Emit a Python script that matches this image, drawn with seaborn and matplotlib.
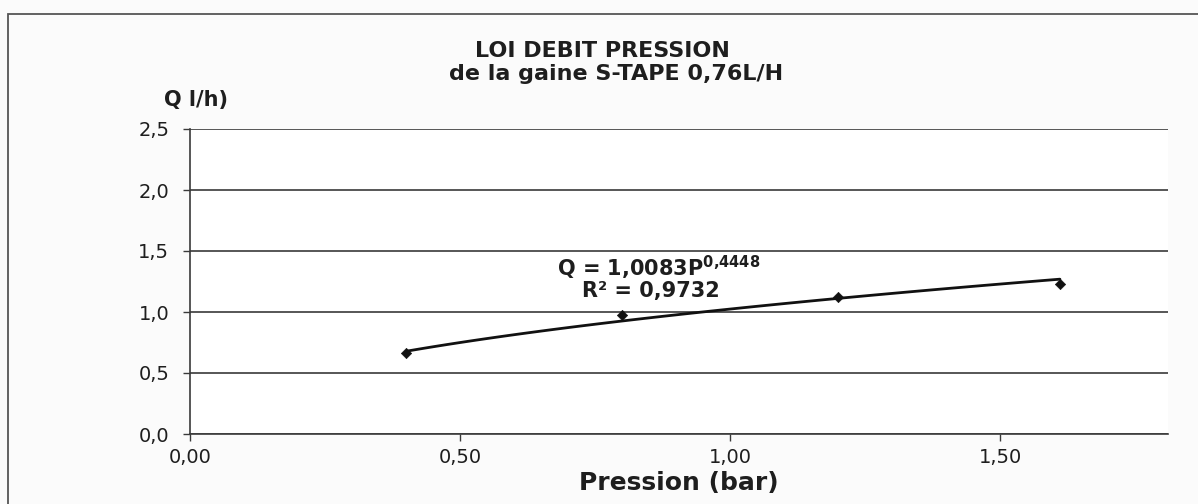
import numpy as np
import pandas as pd
import seaborn as sns
import matplotlib
matplotlib.use("Agg")
import matplotlib.pyplot as plt
from matplotlib.patches import Rectangle
from matplotlib.ticker import FuncFormatter

# Data
pression = [0.40, 0.80, 1.20, 1.61]
debit = [0.66, 0.975, 1.12, 1.23]
x_ticks = [0.0, 0.5, 1.0, 1.5]
y_ticks = [0.0, 0.5, 1.0, 1.5, 2.0, 2.5]
eq_coef = "1,0083"
eq_exp = "0,4448"
r2_text = "0,9732"

sns.set_theme(style="white")
plt.rcParams['font.family'] = ['DejaVu Sans']
plt.rcParams['mathtext.fontset'] = 'custom'
plt.rcParams['mathtext.rm'] = 'DejaVu Sans:bold'
plt.rcParams['mathtext.bf'] = 'DejaVu Sans:bold'
plt.rcParams['mathtext.it'] = 'DejaVu Sans:bold'

txt = '#1e1e1e'
fig = plt.figure(figsize=(11.98, 5.04), dpi=100)
fig.patch.set_facecolor('#fbfbfb')
ax = fig.add_axes([190/1198, 1-434/504, (1168-190)/1198, (434-129)/504])
ax.set_facecolor('white')

# outer chart frame
fig.patches.append(Rectangle((8/1198, -0.05), 1.2, 1-14/504+0.05, transform=fig.transFigure,
                             fill=False, edgecolor='#555555', lw=1.3, zorder=0))

df = pd.DataFrame({'P': pression, 'Q': debit})
# power trendline fitted on the data (log-log regression)
b, a = np.polyfit(np.log(df['P']), np.log(df['Q']), 1)
xs = np.linspace(min(pression), max(pression), 100)
trend = pd.DataFrame({'P': xs, 'Q': np.exp(a) * xs ** b})
sns.lineplot(data=trend, x='P', y='Q', ax=ax, color='#111111', lw=2.0, zorder=3)
sns.scatterplot(data=df, x='P', y='Q', ax=ax, marker='D', s=28, color='#111111',
                edgecolor='#111111', zorder=4)

ax.set_xlim(0, 1.81)
ax.set_ylim(0, 2.5)
ax.set_xticks(x_ticks)
ax.set_yticks(y_ticks)
ax.xaxis.set_major_formatter(FuncFormatter(lambda v, p: f"{v:.2f}".replace('.', ',')))
ax.yaxis.set_major_formatter(FuncFormatter(lambda v, p: f"{v:.1f}".replace('.', ',')))
ax.grid(axis='y', color='#3a3a3a', lw=1.2)
ax.grid(axis='x', visible=False)
for s in ['top', 'right']:
    ax.spines[s].set_visible(False)
ax.spines['left'].set_color('#3a3a3a')
ax.spines['bottom'].set_color('#3a3a3a')
ax.spines['left'].set_linewidth(1.2)
ax.spines['bottom'].set_linewidth(1.2)
ax.tick_params(axis='both', which='major', direction='out', length=5, width=1,
               color='#3a3a3a', labelsize=14, labelcolor=txt, bottom=True, left=True)
ax.tick_params(axis='y', pad=10)
ax.tick_params(axis='x', pad=5)
ax.set_xlabel('Pression (bar)', fontsize=18, fontweight='bold', color=txt, labelpad=3)
ax.set_ylabel('')

fig.text(0.503, 1-51/504, 'LOI DEBIT PRESSION', ha='center', va='center', fontsize=16,
         fontweight='bold', color=txt)
fig.text(0.514, 1-74/504, 'de la gaine S-TAPE 0,76L/H', ha='center', va='center', fontsize=16,
         fontweight='bold', color=txt)
fig.text(164/1198, 1-100/504, 'Q l/h)', ha='left', va='center', fontsize=15,
         fontweight='bold', color=txt)

ax.text(0.68, 1.36, f"Q = {eq_coef}P$^{{{eq_exp.replace(',', '{,}')}}}$", ha='left', va='center',
        fontsize=15, fontweight='bold', color=txt)
ax.text(0.725, 1.17, f"R² = {r2_text}", ha='left', va='center',
        fontsize=15, fontweight='bold', color=txt)

fig.savefig('out.png', dpi=100, facecolor=fig.get_facecolor())
